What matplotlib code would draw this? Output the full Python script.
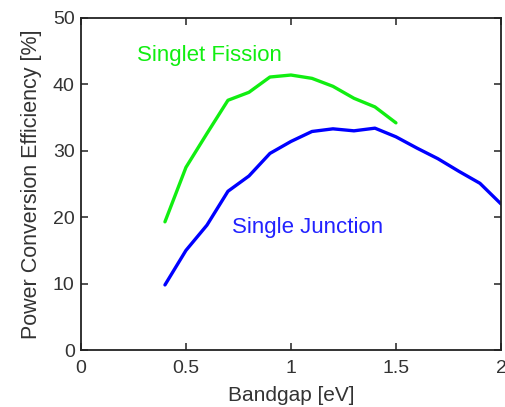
import matplotlib
matplotlib.use("Agg")
import matplotlib.pyplot as plt

plt.rcParams['font.family'] = ['Liberation Sans', 'DejaVu Sans']

bandgap_sf = [0.4, 0.5, 0.6, 0.7, 0.8, 0.9, 1.0, 1.1, 1.2, 1.3, 1.4, 1.5]
eff_sf = [19.3, 27.5, 32.6, 37.6, 38.8, 41.1, 41.4, 40.9, 39.7, 37.9, 36.6, 34.2]

bandgap_sj = [0.4, 0.5, 0.6, 0.7, 0.8, 0.9, 1.0, 1.1, 1.2, 1.3, 1.4, 1.5, 1.6, 1.7, 1.8, 1.9, 2.0]
eff_sj = [9.8, 15.0, 18.8, 23.9, 26.2, 29.6, 31.4, 32.9, 33.3, 33.0, 33.4, 32.1, 30.4, 28.8, 26.9, 25.1, 22.0]

xticks = [0, 0.5, 1, 1.5, 2]
xticklabels = ['0', '0.5', '1', '1.5', '2']
yticks = [0, 10, 20, 30, 40, 50]

fig = plt.figure(figsize=(5.06, 4.07), dpi=100)
ax = fig.add_axes([0.160, 0.140, 0.830, 0.816])

ax.plot(bandgap_sf, eff_sf, color='#11ee11', lw=2.4, solid_capstyle='round')
ax.plot(bandgap_sj, eff_sj, color='#0000ff', lw=2.4, solid_capstyle='round')

ax.set_xlim(0, 2)
ax.set_ylim(0, 50)
ax.set_xticks(xticks)
ax.set_xticklabels(xticklabels)
ax.set_yticks(yticks)
ax.tick_params(direction='in', top=True, right=True, length=5, width=1.2,
               labelsize=14, colors='#333333', pad=4.5)
ax.tick_params(axis='x', pad=7)
for s in ax.spines.values():
    s.set_linewidth(1.3)
    s.set_color('#222222')

ax.text(0.265, 44.3, 'Singlet Fission', color='#11ee11', fontsize=16, va='center', ha='left')
ax.text(0.72, 18.5, 'Single Junction', color='#2222ff', fontsize=16, va='center', ha='left')

ax.set_xlabel('Bandgap [eV]', fontsize=15, color='#333333', labelpad=7)
ax.set_ylabel('Power Conversion Efficiency [%]', fontsize=15.5, color='#333333', labelpad=8)

fig.savefig('out.png', dpi=100)
